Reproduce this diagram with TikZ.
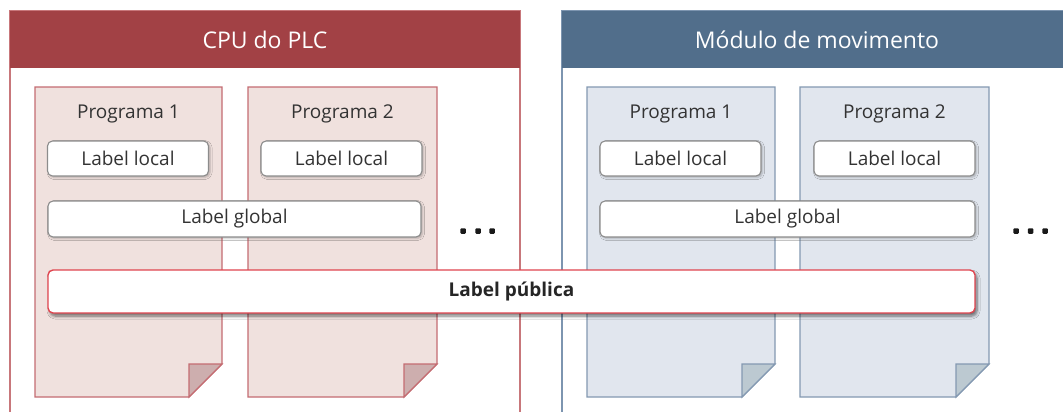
\documentclass[tikz,border=0pt]{standalone}
\usepackage{fontspec}
\setmainfont{Open Sans}
\usetikzlibrary{shadows,shadows.blur}

\definecolor{redhead}{HTML}{A24145}
\definecolor{redframe}{HTML}{C8777B}
\definecolor{redsheet}{HTML}{F0E1DE}
\definecolor{redsheetline}{HTML}{C46C72}
\definecolor{redfold}{HTML}{CDAEAE}
\definecolor{bluehead}{HTML}{516E8B}
\definecolor{blueframe}{HTML}{7D95B0}
\definecolor{bluesheet}{HTML}{E1E6EE}
\definecolor{bluesheetline}{HTML}{8499B2}
\definecolor{bluefold}{HTML}{BCC9D1}
\definecolor{publine}{HTML}{E0454F}
\definecolor{lblline}{HTML}{8C8C8C}
\definecolor{txt}{HTML}{333333}

% sheet of paper with a folded lower-right corner: #5 line, #6 fill, #7 fold fill
\newcommand{\papersheet}[7]{%
  \fill[#6] (#1,#2) -- (#3,#2) -- (#3,#4-33) -- (#3-33,#4) -- (#1,#4) -- cycle;
  \draw[#5, line width=1.2pt] (#1,#2) -- (#3,#2) -- (#3,#4-33) -- (#3-33,#4) -- (#1,#4) -- cycle;
  \filldraw[fill=#7, draw=#5, line width=1.2pt] (#3-33,#4-33) -- (#3,#4-33) -- (#3-33,#4) -- cycle;
}

\tikzset{
  headtext/.style={text=white, font=\fontsize{23}{26}\selectfont, inner sep=0pt},
  progtext/.style={text=txt, font=\fontsize{19}{22}\selectfont, inner sep=0pt},
  lblbox/.style={draw=lblline, line width=1.1pt, fill=white, rounded corners=5pt,
    text=txt, font=\fontsize{19}{22}\selectfont, inner sep=0pt,
    blur shadow={shadow xshift=1.5pt, shadow yshift=-1.5pt, shadow blur steps=4, shadow blur radius=2pt, shadow opacity=25}},
  pubbox/.style={draw=publine, line width=1.4pt, fill=white, rounded corners=5pt,
    text=black!85, font=\fontsize{19}{22}\selectfont\bfseries, inner sep=0pt,
    blur shadow={shadow xshift=2pt, shadow yshift=-3pt, shadow blur steps=6, shadow blur radius=3pt, shadow opacity=55}},
  dotmark/.style={rectangle, rounded corners=1pt, fill=black!90, inner sep=0pt, minimum size=5.5pt},
}

\begin{document}
\begin{tikzpicture}[x=1pt, y=-1pt]
\clip (0,0) rectangle (1063,412);
\fill[white] (0,0) rectangle (1063,412);

% controller panel
\draw[redframe, line width=1.3pt] (10,430) -- (10,11) -- (520,11) -- (520,430);
\fill[redhead] (10,11) rectangle (520,68);
\node[headtext] (cpuhead) at (265,39.5) {CPU do PLC};

% motion module panel
\draw[blueframe, line width=1.3pt] (562,430) -- (562,11) -- (1080,11);
\fill[bluehead] (562,11) rectangle (1080,68);
\node[headtext] (motionhead) at (817,39.5) {Módulo de movimento};

% program sheets
\papersheet{35}{87}{222}{397}{redsheetline}{redsheet}{redfold}
\papersheet{248}{87}{437}{397}{redsheetline}{redsheet}{redfold}
\papersheet{587}{87}{775}{397}{bluesheetline}{bluesheet}{bluefold}
\papersheet{800}{87}{989}{397}{bluesheetline}{bluesheet}{bluefold}

\node[progtext] (p1a) at (128.5,114) {Programa 1};
\node[progtext] (p2a) at (342.5,114) {Programa 2};
\node[progtext] (p1b) at (681,114) {Programa 1};
\node[progtext] (p2b) at (894.5,114) {Programa 2};

% local labels
\node[lblbox, minimum width=161pt, minimum height=35pt] (loc1a) at (128,158.5) {Label local};
\node[lblbox, minimum width=161pt, minimum height=35pt] (loc2a) at (341.5,158.5) {Label local};
\node[lblbox, minimum width=161pt, minimum height=35pt] (loc1b) at (680.5,158.5) {Label local};
\node[lblbox, minimum width=161pt, minimum height=35pt] (loc2b) at (894.5,158.5) {Label local};

% global labels
\node[lblbox, minimum width=373pt, minimum height=36pt] (glob1) at (234.5,219) {Label global};
\node[lblbox, minimum width=375pt, minimum height=36pt] (glob2) at (787.5,219) {Label global};

% continuation marks
\node[dotmark] (d1) at (463,231) {};
\node[dotmark] (d2) at (478,231) {};
\node[dotmark] (d3) at (492,231) {};
\node[dotmark] (d4) at (1016,231) {};
\node[dotmark] (d5) at (1030.5,231) {};
\node[dotmark] (d6) at (1045,231) {};

% public label spanning both units
\node[pubbox, minimum width=927pt, minimum height=43pt] (pub) at (511.5,291.5) {Label pública};
\end{tikzpicture}
\end{document}
